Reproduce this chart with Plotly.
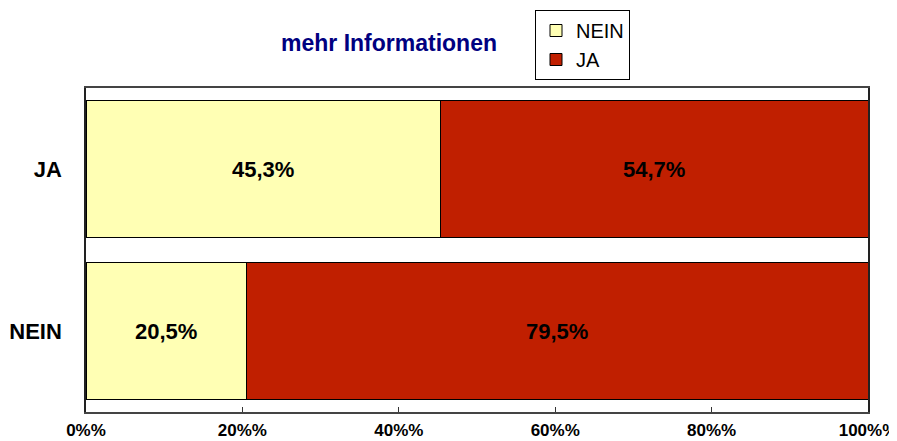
import plotly.graph_objects as go

categories = ["JA", "NEIN"]
nein_values = [45.3, 20.5]
ja_values = [54.7, 79.5]
tick_values = [0, 20, 40, 60, 80, 100]
tick_labels = ["0%%", "20%%", "40%%", "60%%", "80%%", "100%%"]

def fmt(v):
    return f"{v:.1f}".replace(".", ",") + "%"

FONT = "Liberation Sans, Arial"

# page body has an 8px margin, so the figure is sized/offset to fit the window
W, H = 889, 433
L, R, T, B = 78, 29, 80, 29
PW = W - L - R
PH = H - T - B

fig = go.Figure()
fig.add_trace(go.Bar(
    y=categories, x=nein_values, orientation="h", name="NEIN",
    marker=dict(color="#FFFFB4", line=dict(color="#000000", width=1)),
    text=[fmt(v) for v in nein_values], textposition="inside",
    insidetextanchor="middle", constraintext="none",
    textfont=dict(family=FONT, size=22, color="#000000", weight="bold"),
))
fig.add_trace(go.Bar(
    y=categories, x=ja_values, orientation="h", name="JA",
    marker=dict(color="#C01F00", line=dict(color="#000000", width=1)),
    text=[fmt(v) for v in ja_values], textposition="inside",
    insidetextanchor="middle", constraintext="none",
    textfont=dict(family=FONT, size=22, color="#000000", weight="bold"),
))

fig.update_layout(
    width=W, height=H,
    barmode="stack", bargap=0.15,
    margin=dict(l=L, r=R, t=T, b=B, autoexpand=False),
    paper_bgcolor="white", plot_bgcolor="white",
    font=dict(family=FONT, color="#000000"),
    title=dict(text="<b>mehr Informationen</b>", x=(381 - L) / PW, xref="paper",
               xanchor="center", y=1 - 35 / H, yref="container", yanchor="middle",
               font=dict(size=23, color="#000080")),
    legend=dict(x=(527 - L) / PW, y=1 + (T - 2) / PH, xanchor="left", yanchor="top",
                bordercolor="#000000", borderwidth=1, bgcolor="white",
                font=dict(size=20), traceorder="normal",
                itemwidth=30, tracegroupgap=0),
    showlegend=True,
)
fig.update_xaxes(
    range=[0, 100], tickvals=tick_values, ticktext=tick_labels,
    ticks="inside", ticklen=5, tickcolor="#333333",
    showline=True, linecolor="#444444", linewidth=1.5, mirror=True,
    showgrid=False, zeroline=False, automargin=False,
    tickfont=dict(size=17, weight="bold"), ticklabelstandoff=2,
    ticklabeloverflow="allow",
)
fig.update_yaxes(
    autorange="reversed", automargin=False,
    showline=True, linecolor="#222222", linewidth=1.5, mirror=True,
    showgrid=False, ticks="",
    tickfont=dict(size=22, weight="bold"), ticklabelstandoff=18,
)

fig.write_html("out.html")
